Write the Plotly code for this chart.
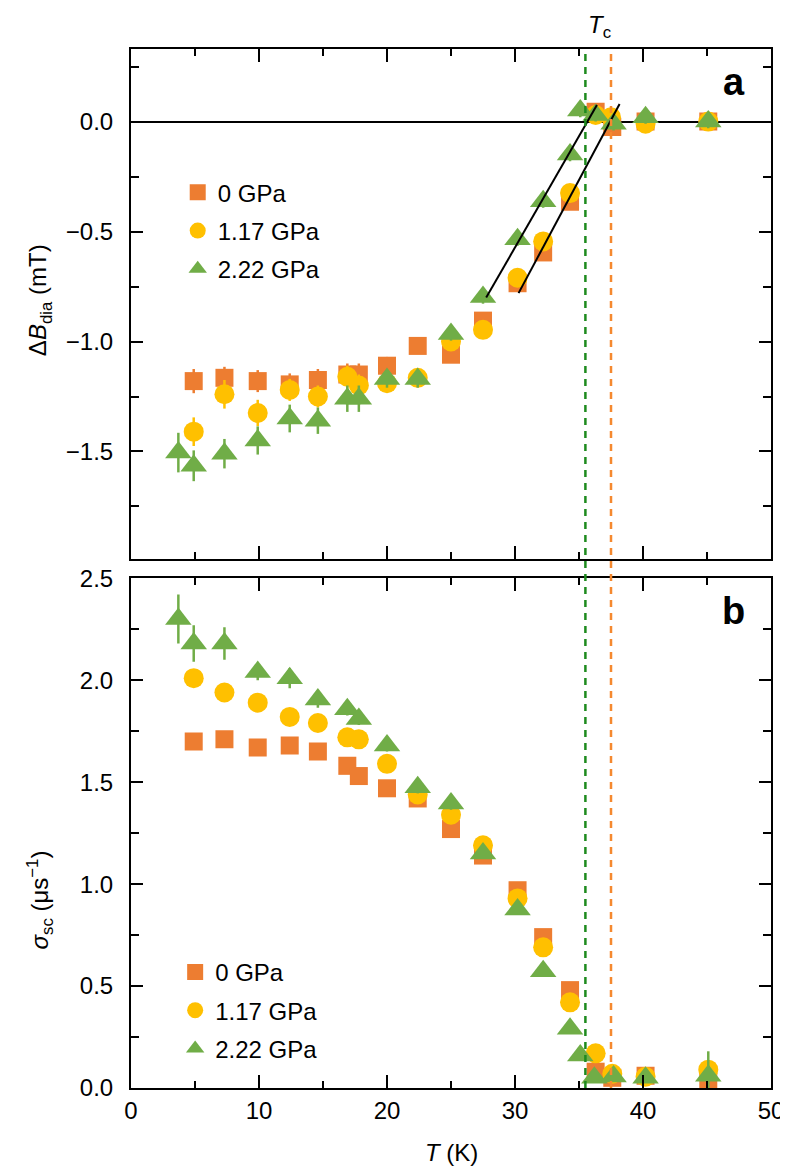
import plotly.graph_objects as go

# ---------------- data ----------------
# panel a : Delta B_dia (mT)
T_a_0 = [4.9, 7.3, 9.9, 12.4, 14.6, 16.9, 17.8, 20.0, 22.4, 25.0, 27.5, 30.2, 32.2, 34.3, 36.3, 37.6, 40.2, 45.1]
B_0 = [-1.18, -1.165, -1.18, -1.195, -1.175, -1.15, -1.15, -1.11, -1.02, -1.06, -0.905, -0.735, -0.595, -0.365, 0.045, -0.025, 0.0, 0.0]
eB_0 = [0.055, 0.05, 0.05, 0.05, 0.05, 0.05, 0.05, 0.04, 0.03, 0.03, 0.03, 0.03, 0.03, 0.03, 0.03, 0.03, 0.03, 0.03]

T_a_1 = [4.9, 7.3, 9.9, 12.4, 14.6, 16.9, 17.8, 20.0, 22.4, 25.0, 27.5, 30.2, 32.2, 34.3, 36.3, 37.5, 40.2, 45.1]
B_1 = [-1.41, -1.24, -1.325, -1.22, -1.25, -1.16, -1.20, -1.19, -1.165, -1.00, -0.947, -0.71, -0.545, -0.325, 0.03, 0.02, -0.01, 0.0]
eB_1 = [0.065, 0.065, 0.06, 0.05, 0.05, 0.05, 0.05, 0.04, 0.03, 0.03, 0.03, 0.03, 0.03, 0.03, 0.03, 0.03, 0.03, 0.03]

T_a_2 = [3.7, 4.9, 7.3, 9.9, 12.4, 14.6, 16.9, 17.8, 20.0, 22.4, 25.0, 27.5, 30.2, 32.2, 34.3, 35.1, 36.3, 37.7, 40.2, 45.1]
B_2 = [-1.505, -1.565, -1.51, -1.45, -1.35, -1.36, -1.26, -1.26, -1.17, -1.17, -0.966, -0.798, -0.535, -0.362, -0.15, 0.05, 0.03, -0.01, 0.02, 0.0]
eB_2 = [0.09, 0.07, 0.067, 0.064, 0.063, 0.06, 0.06, 0.06, 0.04, 0.04, 0.03, 0.03, 0.03, 0.03, 0.03, 0.03, 0.03, 0.03, 0.03, 0.03]

# linear guide lines near Tc (panel a)
fit1_T = [27.75, 36.4]
fit1_B = [-0.80, 0.075]
fit2_T = [30.28, 38.17]
fit2_B = [-0.78, 0.08]

# panel b : sigma_sc (us^-1)
T_b_0 = [4.9, 7.3, 9.9, 12.4, 14.6, 16.9, 17.8, 20.0, 22.4, 25.0, 27.5, 30.2, 32.2, 34.3, 36.3, 37.6, 40.2, 45.1]
S_0 = [1.70, 1.71, 1.67, 1.68, 1.65, 1.58, 1.53, 1.47, 1.42, 1.27, 1.14, 0.97, 0.74, 0.48, 0.08, 0.05, 0.06, 0.03]
eS_0 = [0.025, 0.025, 0.02, 0.02, 0.02, 0.02, 0.02, 0.02, 0.02, 0.02, 0.02, 0.02, 0.02, 0.02, 0.02, 0.03, 0.03, 0.03]

T_b_1 = [4.9, 7.3, 9.9, 12.4, 14.6, 16.9, 17.8, 20.0, 22.4, 25.0, 27.5, 30.2, 32.2, 34.3, 36.3, 37.6, 40.2, 45.1]
S_1 = [2.01, 1.94, 1.89, 1.82, 1.79, 1.72, 1.71, 1.59, 1.44, 1.34, 1.19, 0.93, 0.69, 0.42, 0.17, 0.07, 0.055, 0.09]
eS_1 = [0.035, 0.03, 0.03, 0.03, 0.03, 0.03, 0.03, 0.03, 0.03, 0.03, 0.03, 0.03, 0.03, 0.03, 0.03, 0.03, 0.03, 0.03]

T_b_2 = [3.7, 4.9, 7.3, 9.9, 12.4, 14.6, 16.9, 17.8, 20.0, 22.4, 25.0, 27.5, 30.2, 32.2, 34.3, 35.1, 36.2, 37.7, 40.2, 45.1]
S_2 = [2.30, 2.18, 2.18, 2.04, 2.01, 1.905, 1.857, 1.81, 1.68, 1.475, 1.395, 1.15, 0.875, 0.573, 0.29, 0.16, 0.05, 0.057, 0.05, 0.06]
eS_2 = [0.12, 0.09, 0.08, 0.04, 0.05, 0.04, 0.03, 0.03, 0.03, 0.03, 0.03, 0.02, 0.02, 0.02, 0.02, 0.02, 0.02, 0.02, 0.02, 0.12]

Tc_green = 35.5
Tc_orange = 37.5

labels = ["0 GPa", "1.17 GPa", "2.22 GPa"]

# ---------------- style ----------------
C_OR = "#ED7D31"
C_YE = "#FFC000"
C_GR = "#70AD47"
C_DGR = "#1E8A1E"
C_DOR = "#F5892F"
FONT = "Liberation Sans, Arial, Helvetica, sans-serif"
FS = 24

symbols = ["square", "circle", "triangle-up"]
sizes = [18, 20, 23]
colors = [C_OR, C_YE, C_GR]

fig = go.Figure()

top_sets = [(T_a_0, B_0, eB_0), (T_a_1, B_1, eB_1), (T_a_2, B_2, eB_2)]
bot_sets = [(T_b_0, S_0, eS_0), (T_b_1, S_1, eS_1), (T_b_2, S_2, eS_2)]

for i, (tx, ty, te) in enumerate(top_sets):
    fig.add_trace(go.Scatter(
        x=tx, y=ty, mode="markers", name=labels[i], xaxis="x", yaxis="y",
        legend="legend", legendgroup="a%d" % i,
        marker=dict(symbol=symbols[i], size=sizes[i], color=colors[i], line=dict(width=0)),
        error_y=dict(type="data", array=te, color=colors[i], thickness=2.5, width=0),
    ))

for fx, fy in [(fit1_T, fit1_B), (fit2_T, fit2_B)]:
    fig.add_trace(go.Scatter(x=fx, y=fy, mode="lines", xaxis="x", yaxis="y",
                             line=dict(color="black", width=2), showlegend=False, hoverinfo="skip"))

for i, (tx, ty, te) in enumerate(bot_sets):
    fig.add_trace(go.Scatter(
        x=tx, y=ty, mode="markers", name=labels[i], xaxis="x2", yaxis="y2",
        legend="legend2", legendgroup="b%d" % i,
        marker=dict(symbol=symbols[i], size=sizes[i], color=colors[i], line=dict(width=0)),
        error_y=dict(type="data", array=te, color=colors[i], thickness=2.5, width=0),
    ))

axis_common = dict(
    showline=True, linecolor="black", linewidth=2, mirror="ticks",
    ticks="inside", tickwidth=2, tickcolor="black", showgrid=False, zeroline=False,
    automargin=False,
    tickfont=dict(family=FONT, size=FS, color="black"),
)

top_dom = [0.5089, 1.0]
bot_dom = [0.0, 0.4906]

# the page body has an 8px margin; the figure is sized to fit the window without scrolling
fig.update_layout(
    width=780, height=1159,
    margin=dict(l=122.7, r=17.3, t=41.3, b=79.3, autoexpand=False),
    paper_bgcolor="white", plot_bgcolor="white",
    font=dict(family=FONT, size=FS, color="black"),
    xaxis=dict(axis_common, domain=[0, 1], range=[0, 50], dtick=10, ticklen=13,
               showticklabels=False, anchor="y",
               minor=dict(dtick=5, ticklen=7, ticks="inside", tickwidth=2, tickcolor="black")),
    yaxis=dict(axis_common, domain=top_dom, range=[-1.99, 0.33], dtick=0.5, tick0=0, ticklen=12,
               tickformat=".1f", anchor="x", ticklabelstandoff=11,
               zeroline=True, zerolinecolor="black", zerolinewidth=2,
               minor=dict(dtick=0.25, tick0=0, ticklen=8, ticks="inside", tickwidth=2, tickcolor="black")),
    xaxis2=dict(axis_common, domain=[0, 1], range=[0, 50], dtick=10, ticklen=13,
                anchor="y2", ticklabelstandoff=0,
                minor=dict(dtick=5, ticklen=7, ticks="inside", tickwidth=2, tickcolor="black")),
    yaxis2=dict(axis_common, domain=bot_dom, range=[0, 2.5], dtick=0.5, tick0=0, ticklen=12,
                tickformat=".1f", anchor="x2", ticklabelstandoff=11,
                minor=dict(dtick=0.25, tick0=0, ticklen=8, ticks="inside", tickwidth=2, tickcolor="black")),
    legend=dict(x=0.073, y=0.8833, xanchor="left", yanchor="top", bgcolor="rgba(0,0,0,0)",
                font=dict(family=FONT, size=FS, color="black"), tracegroupgap=4, itemsizing="trace"),
    legend2=dict(x=0.069, y=0.1329, xanchor="left", yanchor="top", bgcolor="rgba(0,0,0,0)",
                 font=dict(family=FONT, size=FS, color="black"), tracegroupgap=4, itemsizing="trace"),
    showlegend=True,
)

# Tc dashed lines across both panels
for xv, col in [(Tc_green, C_DGR), (Tc_orange, C_DOR)]:
    fig.add_shape(type="line", xref="x", yref="paper", x0=xv, x1=xv, y0=0, y1=1,
                  line=dict(color=col, width=2.5, dash="7px,6px"), layer="above")

annos = [
    dict(text="<i>T</i><sub>c</sub>", xref="x", yref="paper", x=36.6, y=1.0388,
         xanchor="center", yanchor="top", showarrow=False, font=dict(size=FS)),
    dict(text="<b>a</b>", xref="x", yref="paper", x=47.1, y=0.9685,
         xanchor="center", yanchor="middle", showarrow=False, font=dict(size=38)),
    dict(text="<b>b</b>", xref="x", yref="paper", x=47.1, y=0.4591,
         xanchor="center", yanchor="middle", showarrow=False, font=dict(size=38)),
    dict(text="Δ<i>B</i><sub>dia</sub> (mT)", xref="paper", yref="paper", x=-0.1417, y=0.7586,
         xanchor="center", yanchor="middle", textangle=-90, showarrow=False, font=dict(size=FS)),
    dict(text="<i>σ</i><sub>sc</sub> (μs<sup>−1</sup>)", xref="paper", yref="paper", x=-0.1417, y=0.1808,
         xanchor="center", yanchor="middle", textangle=-90, showarrow=False, font=dict(size=FS)),
    dict(text="<i>T</i> (K)", xref="paper", yref="paper", x=0.5, y=-0.0619,
         xanchor="center", yanchor="middle", showarrow=False, font=dict(size=FS)),
]
fig.update_layout(annotations=annos)

fig.write_html("out.html")
